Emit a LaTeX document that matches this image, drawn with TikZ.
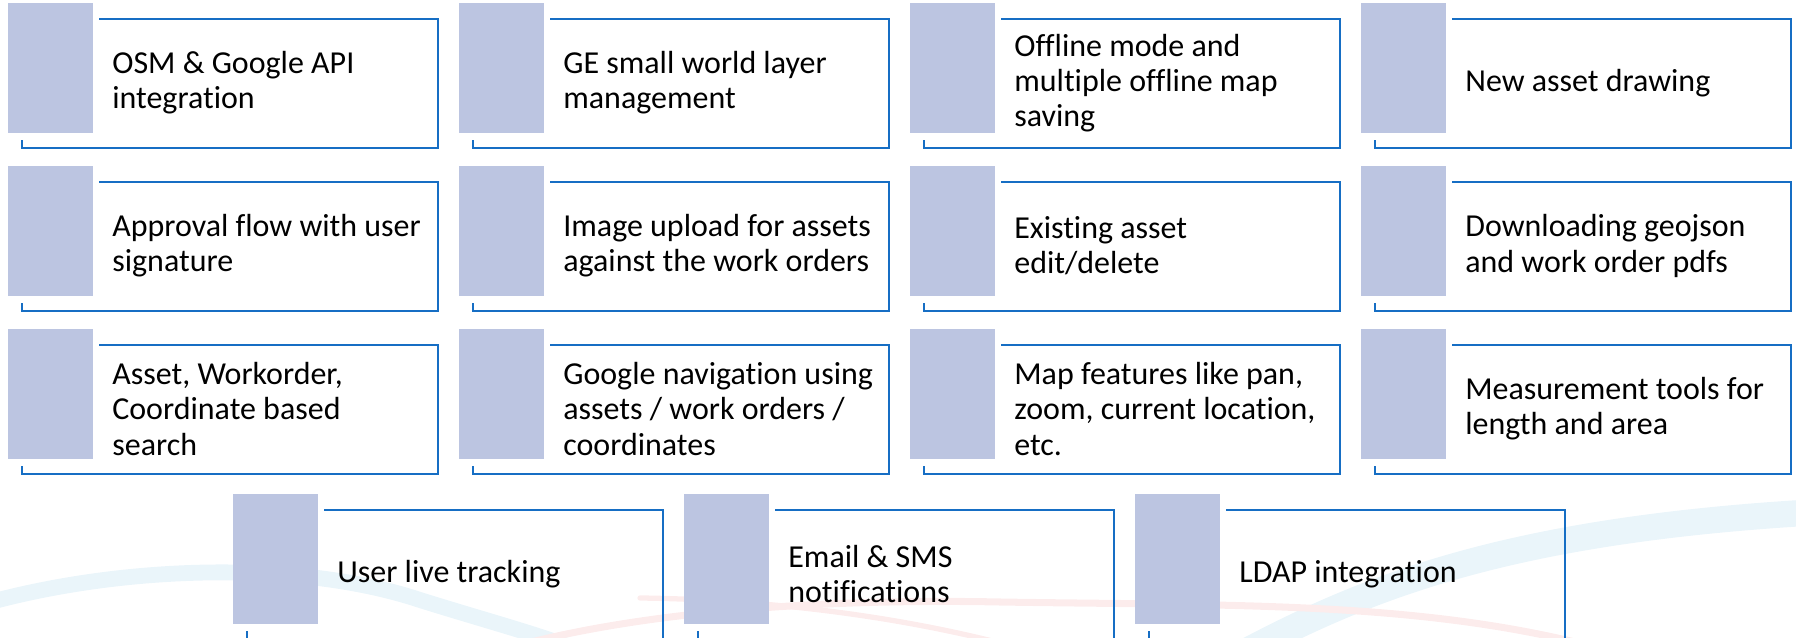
\documentclass[tikz,border=0pt]{standalone}
\usepackage{fontspec}
\setmainfont{Carlito}[Ligatures=NoCommon]
\usepackage{tikz}
\usetikzlibrary{calc}
\definecolor{barfill}{RGB}{188,197,225}
\definecolor{frameblue}{RGB}{22,110,196}
\definecolor{swoshcyan}{RGB}{234,245,250}
\definecolor{swoshpink}{RGB}{252,236,236}
\tikzset{
  bar/.style={fill=barfill, draw=none, minimum width=85*0.02cm, minimum height=130*0.02cm,
              anchor=north west, inner sep=0pt},
  frame/.style={draw=frameblue, line width=1.1pt},
  feature/.style={anchor=west, align=left, inner sep=0pt, text=black,
                  font=\fontsize{18.2}{20}\selectfont},
  swoosh/.style={line cap=round, line width=#1}
}
% one feature: x, y of the bar's top left, node name, text
\newcommand{\featurebox}[4]{%
  \node[bar] (#3bar) at (#1,#2) {};
  \draw[frame] (#1+91,#2+16) -| (#1+430,#2+145) -| (#1+14,#2+137);
  \node[feature] (#3) at (#1+104,#2+80) {#4};
}

\begin{document}
\begin{tikzpicture}[x=0.02cm,y=-0.02cm]
  \useasboundingbox (0,0) rectangle (1796,638);
  % faint background swooshes
  \draw[swoshcyan, swoosh=9pt] (-20,605) .. controls (120,565) and (300,560) .. (420,600) .. controls (500,625) and (560,640) .. (600,660);
  \draw[swoshcyan, swoosh=15pt] (1230,660) .. controls (1360,590) and (1500,530) .. (1820,512);
  \draw[swoshpink, swoosh=4pt] (470,660) .. controls (600,615) and (800,598) .. (1000,602) .. controls (1250,606) and (1450,600) .. (1640,660);
  \draw[swoshpink, swoosh=3pt] (640,598) .. controls (800,600) and (950,625) .. (1060,660);
  % row 1
  \featurebox{8}{3}{osm}{OSM \& Google API\\integration}
  \featurebox{459}{3}{ge}{GE small world layer\\management}
  \featurebox{910}{3}{offline}{Offline mode and\\multiple offline map\\saving}
  \featurebox{1361}{3}{draw}{New asset drawing}
  % row 2
  \featurebox{8}{166}{approval}{Approval flow with user\\signature}
  \featurebox{459}{166}{upload}{Image upload for assets\\against the work orders}
  \featurebox{910}{166}{edit}{Existing asset\\edit/delete}
  \featurebox{1361}{166}{download}{Downloading geojson\\and work order pdfs}
  % row 3
  \featurebox{8}{329}{search}{Asset, Workorder,\\Coordinate based\\search}
  \featurebox{459}{329}{nav}{Google navigation using\\assets / work orders /\\coordinates}
  \featurebox{910}{329}{mapfeat}{Map features like pan,\\zoom, current location,\\etc.}
  \featurebox{1361}{329}{measure}{Measurement tools for\\length and area}
  % row 4
  \featurebox{233}{494}{track}{User live tracking}
  \featurebox{684}{494}{notify}{Email \& SMS\\notifications}
  \featurebox{1135}{494}{ldap}{LDAP integration}
\end{tikzpicture}
\end{document}
